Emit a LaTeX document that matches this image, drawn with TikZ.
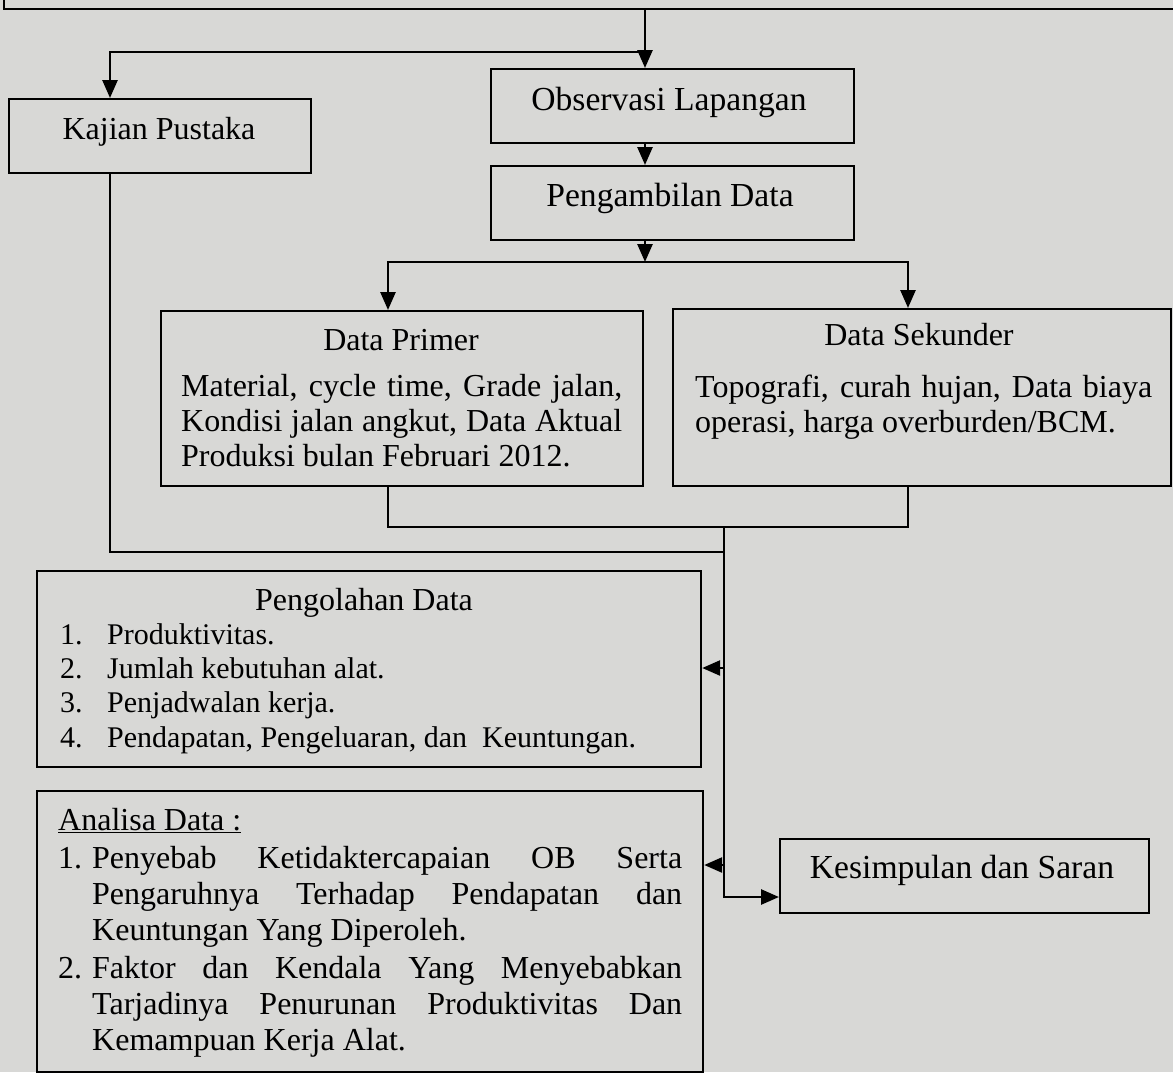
\documentclass[tikz,border=0pt]{standalone}
\usepackage{fontspec}
\setmainfont{Liberation Serif}
\usetikzlibrary{arrows.meta,calc}
\definecolor{paper}{RGB}{216,216,214}
\begin{document}
\begin{tikzpicture}[x=1pt,y=-1pt,
  box/.style={draw, line width=2.2pt, inner sep=0pt, anchor=north west},
  conn/.style={line width=2.6pt},
  arr/.style={conn, -{Triangle[length=18pt,width=15pt]}},
  txt/.style={inner sep=0pt, font=\fontsize{32}{35}\selectfont},
  bigtxt/.style={inner sep=0pt, font=\fontsize{33.6}{36}\selectfont},
  itemtxt/.style={inner sep=0pt, font=\fontsize{30}{34}\selectfont, anchor=base west},
  para/.style={txt, align=justify, anchor=base west}
]
\useasboundingbox (0,0) rectangle (1173,1072);
\fill[paper] (0,0) rectangle (1173,1072);

% boxes
\node[box, anchor=south west, minimum width=1200pt, minimum height=40pt] (top) at (3,10) {};
\node[box, minimum width=302pt, minimum height=74pt] (kp) at (8,98) {};
\node[box, minimum width=363pt, minimum height=74pt] (obs) at (490,68) {};
\node[box, minimum width=363pt, minimum height=74pt] (peng) at (490,165) {};
\node[box, minimum width=482pt, minimum height=175pt] (dp) at (160,310) {};
\node[box, minimum width=498pt, minimum height=177pt] (ds) at (672,308) {};
\node[box, minimum width=664pt, minimum height=196pt] (pd) at (36,570) {};
\node[box, minimum width=666pt, minimum height=281pt] (ad) at (36,790) {};
\node[box, minimum width=369pt, minimum height=74pt] (kes) at (779,838) {};

% texts
\node[txt, anchor=base] (tkp) at (159,139) {Kajian Pustaka};
\node[bigtxt, anchor=base] (tobs) at (669,110) {Observasi Lapangan};
\node[bigtxt, anchor=base] (tpeng) at (670,206) {Pengambilan Data};
\node[txt, anchor=base] (tdp) at (401,350) {Data Primer};
\node[para, text width=441pt] (bdp) at (181,396)
  {Material, cycle time, Grade jalan,\linebreak Kondisi jalan angkut, Data Aktual\linebreak Produksi bulan Februari 2012.};
\node[txt, anchor=base] (tds) at (919,345) {Data Sekunder};
\node[para, text width=457pt] (bds) at (695,397)
  {Topografi, curah hujan, Data biaya\linebreak operasi, harga overburden/BCM.};
\node[txt, anchor=base] (tpd) at (364,610) {Pengolahan Data};
\node[itemtxt] (n1) at (60,644) {1.};
\node[itemtxt] (i1) at (107,644) {Produktivitas.};
\node[itemtxt] (n2) at (60,678) {2.};
\node[itemtxt] (i2) at (107,678) {Jumlah kebutuhan alat.};
\node[itemtxt] (n3) at (60,712) {3.};
\node[itemtxt] (i3) at (107,712) {Penjadwalan kerja.};
\node[itemtxt] (n4) at (60,747) {4.};
\node[itemtxt] (i4) at (107,747) {Pendapatan, Pengeluaran, dan\ \ Keuntungan.};
\node[txt, anchor=base west] (tad) at (58,830) {\underline{Analisa Data :}};
\node[txt, anchor=base west] (a1) at (58,868) {1.};
\node[para, text width=590pt, font=\fontsize{32}{36}\selectfont] (b1) at (92,868)
  {Penyebab Ketidaktercapaian OB Serta\linebreak Pengaruhnya Terhadap Pendapatan dan\linebreak Keuntungan Yang Diperoleh.};
\node[txt, anchor=base west] (a2) at (58,978) {2.};
\node[para, text width=590pt, font=\fontsize{32}{36}\selectfont] (b2) at (92,978)
  {Faktor dan Kendala Yang Menyebabkan\linebreak Tarjadinya Penurunan Produktivitas Dan\linebreak Kemampuan Kerja Alat.};
\node[bigtxt, anchor=base] (tkes) at (962,878) {Kesimpulan dan Saran};

% helper coordinates
\coordinate (xa) at (645,0);
\coordinate (xk) at (110,0);
\coordinate (xl) at (388,0);
\coordinate (xr) at (908,0);
\coordinate (j1) at (645,52);
\coordinate (j2) at (645,262);
\coordinate (j3) at (724,527);
\coordinate (j4) at (724,552);
\coordinate (j6) at (724,668);
\coordinate (j7) at (724,865);
\coordinate (j5) at (724,897);

% connectors
\draw[arr] (top.south -| xa) -- (obs.north -| xa);
\draw[arr] (j1) -| (kp.north -| xk);
\draw[arr] (obs.south -| xa) -- (peng.north -| xa);
\draw[arr] (peng.south -| xa) -- (j2);
\draw[arr] (j2) -| (dp.north -| xl);
\draw[arr] (j2) -| (ds.north -| xr);
\draw[conn] (dp.south -| xl) |- (j3 -| xr) -- (ds.south -| xr);
\draw[conn] (kp.south -| xk) |- (j4);
\draw[arr] (j3) -- (j5) -- (j5 -| kes.west);
\draw[arr] (j6) -- (j6 -| pd.east);
\draw[arr] (j7) -- (j7 -| ad.east);
\end{tikzpicture}
\end{document}
